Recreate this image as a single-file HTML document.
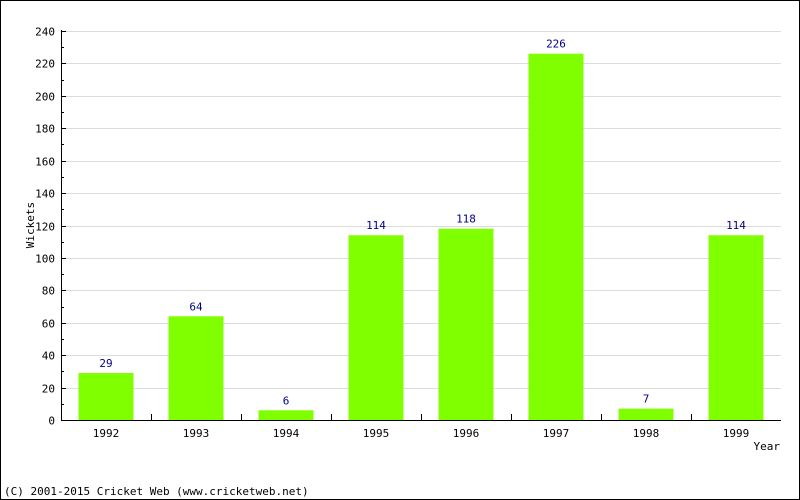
<!DOCTYPE html>
<html><head><meta charset="utf-8"><style>
body{margin:0;background:#fff}
svg{display:block}
text{font-family:"DejaVu Sans Mono","Liberation Mono",monospace;font-size:11px}
</style></head><body>
<svg width="800" height="500">
<rect x="0.5" y="0.5" width="799" height="499" fill="#fff" stroke="#000"/>
<g id="grid"></g><g id="bars"></g><g id="axes"></g>
<text x="34" y="225" transform="rotate(-90 34 225)" text-anchor="middle">Wickets</text>
<text x="780" y="450" text-anchor="end">Year</text>
<text x="4" y="495">(C) 2001-2015 Cricket Web (www.cricketweb.net)</text>
</svg>
<script>
const categories=["1992","1993","1994","1995","1996","1997","1998","1999"];
const values=[29,64,6,114,118,226,7,114];
const yTicks=[0,20,40,60,80,100,120,140,160,180,200,220,240];
const NS="http://www.w3.org/2000/svg";
const x0=61,x1=781,y0=420,yTop=31,yMax=240;
const band=(x1-x0)/categories.length;
const ys=v=>y0-(v/yMax)*(y0-yTop);
const xs=i=>x0+band*i;
function mk(t,a,p){const e=document.createElementNS(NS,t);for(const k in a)e.setAttribute(k,a[k]);p.appendChild(e);return e;}
const grid=document.getElementById('grid'),bars=document.getElementById('bars'),axes=document.getElementById('axes');
yTicks.forEach(v=>{
  const y=Math.round(ys(v))+0.5;
  if(v>0){const g=mk('line',{x1:x0,x2:x1,y1:y,y2:y,stroke:'#dcdcdc'},grid);
  
  }
  const t=mk('line',{x1:x0,x2:x0+5,y1:y,y2:y,stroke:'#000'},axes);
  
  
  const l=mk('text',{x:x0-6,y:y+4,'text-anchor':'end'},axes);l.textContent=v;
  
  
});
for(let i=0;i<yTicks.length-1;i++){
  const y=Math.round(ys((yTicks[i]+yTicks[i+1])/2))+0.5;
  const m=mk('line',{x1:x0,x2:x0+3,y1:y,y2:y,stroke:'#000'},axes);
  
  
}
categories.forEach((c,i)=>{
  const cx=xs(i)+band/2,w=55,top=ys(values[i]);
  const r=mk('rect',{x:cx-w/2,y:top,width:w,height:y0-top,fill:'#80ff00'},bars);
  
  
  const v=mk('text',{x:cx,y:top-6,'text-anchor':'middle',fill:'#00008b'},bars);v.textContent=values[i];
  
  
  const l=mk('text',{x:cx,y:y0+17,'text-anchor':'middle'},axes);l.textContent=c;
  
  
  if(i>0){const t=mk('line',{x1:Math.round(xs(i))+0.5,x2:Math.round(xs(i))+0.5,y1:y0,y2:y0-6,stroke:'#000'},axes);
  
  }
});
const ya=mk('line',{x1:x0+0.5,x2:x0+0.5,y1:yTop-1,y2:y0+0.5,stroke:'#000'},axes);


const xa=mk('line',{x1:x0,x2:x1,y1:y0+0.5,y2:y0+0.5,stroke:'#000'},axes);


</script>
</body></html>
